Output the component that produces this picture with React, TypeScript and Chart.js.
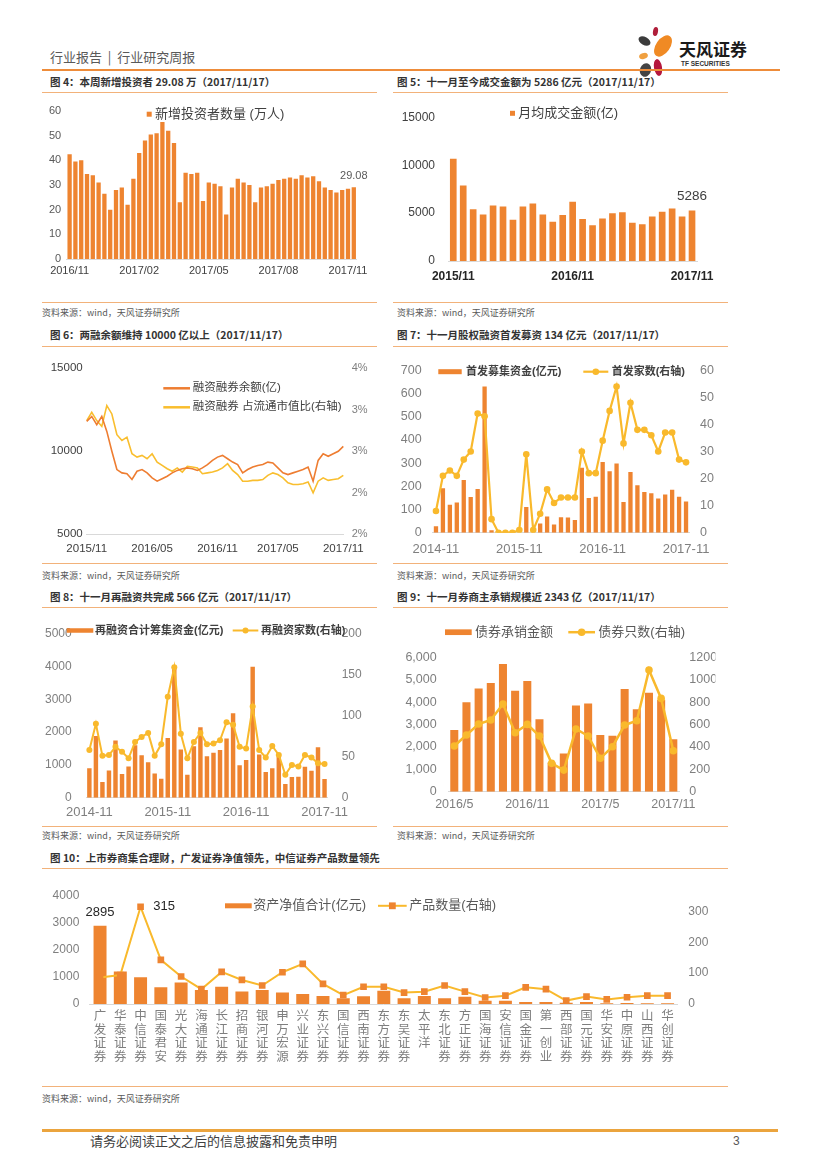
import React, { useEffect, useRef } from 'react';
import { Chart, registerables } from 'chart.js';

Chart.register(...registerables);

const LAT = "'Liberation Sans', 'Noto Sans CJK SC', sans-serif";
const CJK = "'Noto Sans CJK SC', 'Liberation Sans', sans-serif";
Chart.defaults.font.family = LAT;
Chart.defaults.color = '#595959';

const ORANGE = '#EE8430';
const GOLD = '#F9B92C';
const LINE_ORANGE = '#EE7D31';
const LINE_YELLOW = '#F9BE2E';
const AXIS_LINE = '#D9D9D9';

function monthSeq(startYear: number, startMonth: number, n: number, sep: string, pad2: boolean): string[] {
  const out: string[] = [];
  for (let i = 0; i < n; i++) {
    const t = startMonth - 1 + i;
    const y = startYear + Math.floor(t / 12);
    const m = (t % 12) + 1;
    out.push(`${y}${sep}${pad2 ? String(m).padStart(2, '0') : String(m)}`);
  }
  return out;
}

// ---------- 图4 新增投资者（万人），周度
const NEW_INVESTORS = [42.5, 39.5, 40, 34.5, 34, 31, 26.5, 20, 28, 29, 22, 32.5, 43, 48, 50.5, 51, 55.5, 52, 47, 23, 35, 34.5, 35, 23.5, 31, 30.5, 29.5, 18, 29, 32.5, 31, 30, 23, 29, 29.5, 30.5, 32, 32.5, 33, 32.5, 34, 33, 33.5, 31.5, 29, 28, 27, 28, 28.5, 29.08];
const WEEKS_4 = NEW_INVESTORS.map((_, i) => `W${i + 1}`);
const TICKS_4 = ['2016/11', '2017/02', '2017/05', '2017/08', '2017/11'];
const TICK_POS_4 = [0, 12, 24, 36, 48];
const LEGEND_4 = '新增投资者数量 (万人)';

// ---------- 图5 月均成交金额（亿）
const MONTHS_5 = monthSeq(2015, 11, 25, '/', false);
const TURNOVER = [10700, 7900, 5400, 4850, 5800, 5700, 4300, 5700, 6000, 4850, 4100, 4800, 6200, 4400, 3750, 4450, 5000, 5100, 4000, 3850, 4650, 5150, 5500, 4650, 5286];
const TICKS_5 = ['2015/11', '2016/11', '2017/11'];
const LEGEND_5 = '月均成交金额(亿)';

// ---------- 图6 两融余额（亿）与占流通市值比（%）
const MARGIN_BAL = [11800, 12100, 11600, 12100, 11200, 10000, 8900, 8700, 8650, 8300, 8800, 8900, 8700, 8400, 8200, 8350, 8500, 8700, 8850, 8950, 9000, 8950, 8850, 9000, 9200, 9450, 9650, 9750, 9550, 9350, 9200, 8700, 8900, 9050, 9150, 9200, 9350, 9300, 9000, 8700, 8600, 8700, 8800, 8900, 9050, 8200, 9450, 9850, 9700, 9850, 10000, 10300];
const MARGIN_RATIO = [3.12, 3.22, 3.12, 3.05, 3.3, 3.2, 2.95, 2.88, 2.92, 2.72, 2.68, 2.7, 2.66, 2.72, 2.62, 2.58, 2.54, 2.51, 2.55, 2.5, 2.57, 2.56, 2.55, 2.48, 2.49, 2.5, 2.52, 2.55, 2.6, 2.52, 2.47, 2.39, 2.39, 2.4, 2.4, 2.41, 2.46, 2.49, 2.47, 2.43, 2.37, 2.35, 2.35, 2.36, 2.38, 2.25, 2.39, 2.43, 2.4, 2.41, 2.42, 2.46];
const DAYS_6 = MARGIN_BAL.map((_, i) => `D${i + 1}`);
const TICKS_6 = ['2015/11', '2016/05', '2016/11', '2017/05', '2017/11'];
const TICK_POS_6 = [0, 13, 26, 38, 51];
const LEGEND_6 = ['融资融券余额(亿)', '融资融券 占流通市值比(右轴)'];

// ---------- 图7 首发
const MONTHS_78 = monthSeq(2014, 11, 37, '-', true);
const IPO_FUNDS = [28, 192, 120, 130, 227, 154, 188, 630, 11, 0, 0, 0, 0, 111, 0, 40, 70, 35, 67, 65, 55, 280, 150, 155, 305, 265, 298, 132, 262, 205, 175, 170, 147, 165, 185, 155, 134];
const IPO_COUNT = [8, 21, 23, 21, 27, 30, 44, 43, 5, 0, 0, 0, 1, 29, 1, 7, 16, 11, 13, 13, 13, 30, 22, 22, 34, 45, 54, 33, 48, 38, 38, 36, 30, 37, 37, 27, 26];
const TICKS_78 = ['2014-11', '2015-11', '2016-11', '2017-11'];
const LEGEND_7 = ['首发募集资金(亿元)', '首发家数(右轴)'];

// ---------- 图8 再融资
const REFI_FUNDS = [900, 1880, 475, 830, 1740, 720, 950, 1600, 1290, 1080, 740, 580, 1820, 3980, 1470, 700, 1570, 2150, 1260, 1370, 1450, 1800, 2570, 990, 1150, 3990, 1320, 780, 900, 1240, 420, 630, 640, 940, 820, 1540, 566];
const REFI_COUNT = [58, 90, 51, 52, 62, 56, 48, 68, 74, 79, 51, 65, 123, 159, 78, 48, 68, 79, 65, 66, 70, 92, 89, 62, 60, 111, 58, 49, 63, 52, 28, 40, 38, 52, 49, 42, 41];
const LEGEND_8 = ['再融资合计筹集资金(亿元)', '再融资家数(右轴)'];

// ---------- 图9 债券承销
const MONTHS_9 = monthSeq(2016, 5, 19, '/', false);
const BOND_AMT = [2750, 3990, 4610, 4850, 5700, 4510, 4940, 3230, 1300, 1710, 3850, 3940, 2530, 2500, 4580, 3680, 4420, 4100, 2343];
const BOND_COUNT = [408, 506, 604, 640, 783, 527, 601, 497, 253, 193, 560, 497, 298, 402, 595, 634, 1086, 833, 366];
const TICKS_9 = ['2016/5', '2016/11', '2017/5', '2017/11'];
const LEGEND_9 = ['债券承销金额', '债券只数(右轴)'];

// ---------- 图10 集合理财
const BROKERS = ['广发证券', '华泰证券', '中信证券', '国泰君安', '光大证券', '海通证券', '长江证券', '招商证券', '银河证券', '申万宏源', '兴业证券', '东兴证券', '国信证券', '西南证券', '东方证券', '东吴证券', '太平洋', '东北证券', '方正证券', '国海证券', '安信证券', '国金证券', '第一创业', '西部证券', '国元证券', '华安证券', '中原证券', '山西证券', '华创证券'];
const AUM = [2895, 1200, 990, 620, 800, 520, 640, 460, 520, 430, 370, 300, 210, 285, 490, 210, 300, 210, 270, 120, 120, 75, 75, 50, 75, 25, 40, 25, 25];
const PRODUCTS = [86, 94, 315, 143, 89, 48, 104, 78, 60, 103, 130, 65, 29, 56, 56, 37, 40, 60, 40, 21, 27, 54, 48, 11, 24, 15, 22, 27, 27];
const LEGEND_10 = ['资产净值合计(亿元)', '产品数量(右轴)'];

// ---------- helpers
type Box = { left: number; top: number; width: number; height: number };
type Area = { L: number; R: number; T: number; B: number };

function layoutPad(c: Box, a: Area, lw: number, rw: number, bh: number) {
  return {
    left: a.L - c.left - lw,
    right: c.left + c.width - a.R - rw,
    top: a.T - c.top,
    bottom: c.top + c.height - a.B - bh,
  };
}

function yAxis(o: { position: 'left' | 'right'; min: number; max: number; step: number; w: number; size: number; color: string; pad: number; cb?: (v: number) => string }) {
  return {
    type: 'linear',
    position: o.position,
    min: o.min,
    max: o.max,
    ticks: {
      stepSize: o.step,
      padding: o.pad,
      font: { size: o.size },
      color: o.color,
      callback: o.cb ? (v: any) => o.cb!(Number(v)) : (v: any) => String(v),
    },
    grid: { display: false, drawTicks: false },
    border: { display: false },
    afterFit: (s: any) => { s.width = o.w; },
  };
}

function xAxis(o: { h: number; size: number; color: string; pad: number; cb: (i: number) => any; weight?: string; offset?: boolean; lineHeight?: number }) {
  return {
    type: 'category',
    offset: o.offset !== false,
    ticks: {
      autoSkip: false,
      maxRotation: 0,
      minRotation: 0,
      padding: o.pad,
      font: { size: o.size, weight: o.weight || 'normal', lineHeight: o.lineHeight || 1.2 },
      color: o.color,
      callback: (_v: any, i: number) => o.cb(i),
    },
    grid: { display: false, drawTicks: false },
    border: { display: true, color: AXIS_LINE, width: 1 },
    afterFit: (s: any) => { s.height = o.h; },
  };
}

type LegendItem = {
  kind: 'square' | 'bar' | 'line' | 'lineCircle' | 'lineRect';
  x: number; y: number; w: number; h?: number;
  color: string; marker?: string; r?: number; lw?: number;
  text: string; tx: number; font: string; textColor: string;
};

function legendPlugin(id: string, items: LegendItem[]) {
  return {
    id,
    afterDraw(chart: any) {
      const ctx = chart.ctx as CanvasRenderingContext2D;
      ctx.save();
      for (const it of items) {
        if (it.kind === 'square' || it.kind === 'bar') {
          const h = it.h || it.w;
          ctx.fillStyle = it.color;
          ctx.fillRect(it.x, it.y - h / 2, it.w, h);
        } else {
          ctx.strokeStyle = it.color;
          ctx.lineWidth = it.lw || 2;
          ctx.beginPath();
          ctx.moveTo(it.x, it.y);
          ctx.lineTo(it.x + it.w, it.y);
          ctx.stroke();
          const cx = it.x + it.w / 2;
          const r = it.r || 3;
          if (it.kind === 'lineCircle') {
            ctx.fillStyle = it.marker || it.color;
            ctx.beginPath();
            ctx.arc(cx, it.y, r, 0, Math.PI * 2);
            ctx.fill();
          } else if (it.kind === 'lineRect') {
            ctx.fillStyle = it.marker || it.color;
            ctx.fillRect(cx - r, it.y - r, 2 * r, 2 * r);
          }
        }
        ctx.font = it.font;
        ctx.fillStyle = it.textColor;
        ctx.textAlign = 'left';
        ctx.textBaseline = 'middle';
        ctx.fillText(it.text, it.tx, it.y);
      }
      ctx.restore();
    },
  };
}

type PointLabel = { ds: number; idx: number; text: string; dx: number; dy: number; align: CanvasTextAlign; baseline: CanvasTextBaseline; font: string; color: string };

function labelPlugin(id: string, labels: PointLabel[]) {
  return {
    id,
    afterDatasetsDraw(chart: any) {
      const ctx = chart.ctx as CanvasRenderingContext2D;
      ctx.save();
      for (const l of labels) {
        const el = chart.getDatasetMeta(l.ds).data[l.idx];
        if (!el) continue;
        ctx.font = l.font;
        ctx.fillStyle = l.color;
        ctx.textAlign = l.align;
        ctx.textBaseline = l.baseline;
        ctx.fillText(l.text, el.x + l.dx, el.y + l.dy);
      }
      ctx.restore();
    },
  };
}

const baseOptions = (padding: any) => ({
  responsive: true,
  maintainAspectRatio: false,
  animation: false,
  events: [],
  layout: { padding },
});

const noPlugins = { legend: { display: false }, tooltip: { enabled: false }, title: { display: false } };

function ChartBox({ box, make }: { box: Box; make: () => any }) {
  const ref = useRef<HTMLCanvasElement>(null);
  useEffect(() => {
    const chart = new Chart(ref.current as HTMLCanvasElement, make());
    return () => chart.destroy();
  }, []);
  return (
    <div style={{ position: 'absolute', left: box.left, top: box.top, width: box.width, height: box.height }}>
      <canvas ref={ref} />
    </div>
  );
}

// ---------- chart configs
const BOX4: Box = { left: 42, top: 97, width: 335, height: 190 };
function make4() {
  const area = { L: 66.7, R: 356.7, T: 111, B: 259 };
  const last = NEW_INVESTORS.length - 1;
  return {
    type: 'bar',
    data: {
      labels: WEEKS_4,
      datasets: [{ data: NEW_INVESTORS, backgroundColor: ORANGE, barPercentage: 0.74, categoryPercentage: 1 }],
    },
    options: {
      ...baseOptions(layoutPad(BOX4, area, 22, 0, 26)),
      plugins: noPlugins,
      scales: {
        x: xAxis({ h: 26, size: 11, color: '#404040', pad: 5.4, cb: (i) => { const k = TICK_POS_4.indexOf(i); return k >= 0 ? TICKS_4[k] : ''; } }),
        y: yAxis({ position: 'left', min: 0, max: 60, step: 10, w: 22, size: 11, color: '#595959', pad: 5.5 }),
      },
    },
    plugins: [
      legendPlugin('lg4', [{ kind: 'square', x: 104.7, y: 17.2, w: 5, color: ORANGE, text: LEGEND_4, tx: 113, font: `13px ${LAT}`, textColor: '#404040' }]),
      labelPlugin('lb4', [{ ds: 0, idx: last, text: String(NEW_INVESTORS[last]), dx: 0, dy: -6, align: 'center', baseline: 'bottom', font: `11px ${LAT}`, color: '#595959' }]),
    ],
  };
}

const BOX5: Box = { left: 393, top: 97, width: 335, height: 190 };
function make5() {
  const area = { L: 448.3, R: 697, T: 108.3, B: 261 };
  const last = TURNOVER.length - 1;
  return {
    type: 'bar',
    data: {
      labels: MONTHS_5,
      datasets: [{ data: TURNOVER, backgroundColor: ORANGE, barPercentage: 0.67, categoryPercentage: 1 }],
    },
    options: {
      ...baseOptions(layoutPad(BOX5, area, 50, 0, 26)),
      plugins: noPlugins,
      scales: {
        x: xAxis({ h: 26, size: 12, weight: 'bold', color: '#262626', pad: 8.8, cb: (i) => (TICKS_5.includes(MONTHS_5[i]) ? MONTHS_5[i] : '') }),
        y: yAxis({ position: 'left', min: 0, max: 15000, step: 5000, w: 50, size: 12, color: '#404040', pad: 13.3 }),
      },
    },
    plugins: [
      legendPlugin('lg5', [{ kind: 'square', x: 117, y: 16.3, w: 5, color: ORANGE, text: LEGEND_5, tx: 125.3, font: `13px ${LAT}`, textColor: '#404040' }]),
      labelPlugin('lb5', [{ ds: 0, idx: last, text: String(TURNOVER[last]), dx: 0, dy: -7, align: 'center', baseline: 'bottom', font: `13.5px ${LAT}`, color: '#404040' }]),
    ],
  };
}

const BOX6: Box = { left: 42, top: 352, width: 335, height: 210 };
function make6() {
  const area = { L: 86.7, R: 343.3, T: 368.3, B: 534.3 };
  return {
    type: 'line',
    data: {
      labels: DAYS_6,
      datasets: [
        { data: MARGIN_BAL, yAxisID: 'y', borderColor: LINE_ORANGE, borderWidth: 1.6, pointRadius: 0, tension: 0, order: 0 },
        { data: MARGIN_RATIO, yAxisID: 'y1', borderColor: LINE_YELLOW, borderWidth: 1.6, pointRadius: 0, tension: 0, order: 1 },
      ],
    },
    options: {
      ...baseOptions(layoutPad(BOX6, area, 40, 30, 25)),
      plugins: noPlugins,
      scales: {
        x: xAxis({ h: 25, size: 11.5, color: '#404040', pad: 8.1, offset: false, cb: (i) => { const k = TICK_POS_6.indexOf(i); return k >= 0 ? TICKS_6[k] : ''; } }),
        y: yAxis({ position: 'left', min: 5000, max: 15000, step: 5000, w: 40, size: 11.5, color: '#404040', pad: 4 }),
        y1: yAxis({ position: 'right', min: 1.75, max: 3.75, step: 0.5, w: 30, size: 11, color: '#808080', pad: 8.4, cb: (v) => `${Math.round(v)}%` }),
      },
    },
    plugins: [
      legendPlugin('lg6', [
        { kind: 'line', x: 121.3, y: 36.3, w: 26.7, lw: 2.5, color: LINE_ORANGE, text: LEGEND_6[0], tx: 150.7, font: `11.5px ${LAT}`, textColor: '#404040' },
        { kind: 'line', x: 121.3, y: 55.3, w: 26.7, lw: 2.5, color: LINE_YELLOW, text: LEGEND_6[1], tx: 150.7, font: `11.5px ${LAT}`, textColor: '#404040' },
      ]),
    ],
  };
}

const BOX7: Box = { left: 393, top: 352, width: 335, height: 210 };
function make7() {
  const area = { L: 432.5, R: 689.5, T: 365, B: 532.7 };
  return {
    type: 'bar',
    data: {
      labels: MONTHS_78,
      datasets: [
        { type: 'line', data: IPO_COUNT, yAxisID: 'y1', borderColor: GOLD, borderWidth: 2.2, pointRadius: 3.3, pointBackgroundColor: GOLD, pointBorderWidth: 0, tension: 0, order: 0 },
        { type: 'bar', data: IPO_FUNDS, yAxisID: 'y', backgroundColor: ORANGE, barPercentage: 0.62, categoryPercentage: 1, order: 1 },
      ],
    },
    options: {
      ...baseOptions(layoutPad(BOX7, area, 34, 30, 27)),
      plugins: noPlugins,
      scales: {
        x: xAxis({ h: 27, size: 13, color: '#7F7F7F', pad: 8.5, cb: (i) => (TICKS_78.includes(MONTHS_78[i]) ? MONTHS_78[i] : '') }),
        y: yAxis({ position: 'left', min: 0, max: 700, step: 100, w: 34, size: 12.5, color: '#7F7F7F', pad: 10.8 }),
        y1: yAxis({ position: 'right', min: 0, max: 60, step: 10, w: 30, size: 12.5, color: '#7F7F7F', pad: 10.5 }),
      },
    },
    plugins: [
      legendPlugin('lg7', [
        { kind: 'bar', x: 45.3, y: 19.7, w: 23.4, h: 5, color: ORANGE, text: LEGEND_7[0], tx: 73, font: `bold 11px ${LAT}`, textColor: '#404040' },
        { kind: 'lineCircle', x: 190.3, y: 19.7, w: 25, lw: 2.2, r: 3.3, color: GOLD, marker: GOLD, text: LEGEND_7[1], tx: 218.7, font: `bold 11px ${LAT}`, textColor: '#404040' },
      ]),
    ],
  };
}

const BOX8: Box = { left: 36, top: 612, width: 341, height: 212 };
function make8() {
  const area = { L: 86.1, R: 327.8, T: 622.3, B: 797.7 };
  return {
    type: 'bar',
    data: {
      labels: MONTHS_78,
      datasets: [
        { type: 'line', data: REFI_COUNT, yAxisID: 'y1', borderColor: GOLD, borderWidth: 2, pointRadius: 3, pointBackgroundColor: GOLD, pointBorderWidth: 0, tension: 0, order: 0 },
        { type: 'bar', data: REFI_FUNDS, yAxisID: 'y', backgroundColor: ORANGE, barPercentage: 0.68, categoryPercentage: 1, order: 1 },
      ],
    },
    options: {
      ...baseOptions(layoutPad(BOX8, area, 44, 35, 24)),
      plugins: noPlugins,
      scales: {
        x: xAxis({ h: 24, size: 13, color: '#7F7F7F', pad: 6.8, cb: (i) => (TICKS_78.includes(MONTHS_78[i]) ? MONTHS_78[i] : '') }),
        y: yAxis({ position: 'left', min: 0, max: 5000, step: 1000, w: 44, size: 12, color: '#7F7F7F', pad: 14.4 }),
        y1: yAxis({ position: 'right', min: 0, max: 200, step: 50, w: 35, size: 12, color: '#7F7F7F', pad: 13.9 }),
      },
    },
    plugins: [
      legendPlugin('lg8', [
        { kind: 'bar', x: 30.7, y: 18.5, w: 26.6, h: 4.5, color: ORANGE, text: LEGEND_8[0], tx: 59, font: `bold 11px ${LAT}`, textColor: '#404040' },
        { kind: 'lineCircle', x: 196.7, y: 18.5, w: 25.6, lw: 2, r: 3, color: GOLD, marker: GOLD, text: LEGEND_8[1], tx: 225, font: `bold 11px ${LAT}`, textColor: '#404040' },
      ]),
    ],
  };
}

const BOX9: Box = { left: 393, top: 612, width: 335, height: 212 };
function make9() {
  const area = { L: 448.2, R: 679.4, T: 657.3, B: 791.7 };
  return {
    type: 'bar',
    data: {
      labels: MONTHS_9,
      datasets: [
        { type: 'line', data: BOND_COUNT, yAxisID: 'y1', borderColor: GOLD, borderWidth: 2.5, pointRadius: 3.8, pointBackgroundColor: GOLD, pointBorderWidth: 0, tension: 0, order: 0 },
        { type: 'bar', data: BOND_AMT, yAxisID: 'y', backgroundColor: ORANGE, barPercentage: 0.66, categoryPercentage: 1, order: 1 },
      ],
    },
    options: {
      ...baseOptions(layoutPad(BOX9, area, 50, 36, 26)),
      plugins: noPlugins,
      scales: {
        x: xAxis({ h: 26, size: 12.5, color: '#7F7F7F', pad: 5.8, cb: (i) => (TICKS_9.includes(MONTHS_9[i]) ? MONTHS_9[i] : '') }),
        y: yAxis({ position: 'left', min: 0, max: 6000, step: 1000, w: 50, size: 12.5, color: '#7F7F7F', pad: 11.5, cb: (v) => v.toLocaleString('en-US') }),
        y1: yAxis({ position: 'right', min: 0, max: 1200, step: 200, w: 36, size: 12.5, color: '#7F7F7F', pad: 9.9 }),
      },
    },
    plugins: [
      legendPlugin('lg9', [
        { kind: 'bar', x: 52, y: 20.2, w: 26.7, h: 5.7, color: ORANGE, text: LEGEND_9[0], tx: 82, font: `13px ${LAT}`, textColor: '#595959' },
        { kind: 'lineCircle', x: 175.3, y: 20.2, w: 26.7, lw: 2.5, r: 3.8, color: GOLD, marker: GOLD, text: LEGEND_9[1], tx: 205.3, font: `13px ${LAT}`, textColor: '#595959' },
      ]),
    ],
  };
}

const BOX10: Box = { left: 42, top: 872, width: 686, height: 200 };
function make10() {
  const area = { L: 89.9, R: 677.7, T: 896, B: 1004 };
  const topProducts = PRODUCTS.indexOf(Math.max(...PRODUCTS));
  return {
    type: 'bar',
    data: {
      labels: BROKERS,
      datasets: [
        { type: 'line', data: PRODUCTS, yAxisID: 'y1', borderColor: GOLD, borderWidth: 2, pointStyle: 'rect', pointRadius: 4.7, pointBackgroundColor: ORANGE, pointBorderColor: ORANGE, pointBorderWidth: 0, tension: 0, order: 0 },
        { type: 'bar', data: AUM, yAxisID: 'y', backgroundColor: ORANGE, barPercentage: 0.64, categoryPercentage: 1, order: 1 },
      ],
    },
    options: {
      ...baseOptions(layoutPad(BOX10, area, 44, 36, 64)),
      plugins: noPlugins,
      scales: {
        x: xAxis({ h: 64, size: 12.5, lineHeight: 1.08, color: '#7F7F7F', pad: 6, cb: (i) => BROKERS[i].split('') }),
        y: yAxis({ position: 'left', min: 0, max: 4000, step: 1000, w: 44, size: 12, color: '#7F7F7F', pad: 10.6 }),
        y1: yAxis({ position: 'right', min: 0, max: 350, step: 100, w: 36, size: 12, color: '#7F7F7F', pad: 10.6, cb: (v) => (v % 100 === 0 ? String(v) : '') }),
      },
    },
    plugins: [
      legendPlugin('lg10', [
        { kind: 'bar', x: 183, y: 33.8, w: 26.7, h: 5, color: ORANGE, text: LEGEND_10[0], tx: 211.3, font: `13px ${LAT}`, textColor: '#595959' },
        { kind: 'lineRect', x: 336, y: 33.8, w: 28.7, lw: 2, r: 3.4, color: GOLD, marker: ORANGE, text: LEGEND_10[1], tx: 367.3, font: `13px ${LAT}`, textColor: '#595959' },
      ]),
      labelPlugin('lb10', [
        { ds: 1, idx: 0, text: String(AUM[0]), dx: 0, dy: -7, align: 'center', baseline: 'bottom', font: `13px ${LAT}`, color: '#262626' },
        { ds: 0, idx: topProducts, text: String(PRODUCTS[topProducts]), dx: 12.6, dy: 0, align: 'left', baseline: 'middle', font: `13px ${LAT}`, color: '#262626' },
      ]),
    ],
  };
}

// ---------- page text pieces
function Txt({ x, y, size, color = '#404040', weight = 400, family = CJK, children }: { x: number; y: number; size: number; color?: string; weight?: number; family?: string; children: React.ReactNode }) {
  return (
    <div style={{ position: 'absolute', left: x, top: y - size * 0.7, fontSize: size, lineHeight: `${size * 1.4}px`, color, fontWeight: weight, whiteSpace: 'nowrap', fontFamily: family }}>
      {children}
    </div>
  );
}

function Rule({ x, y, w, h = 1, color = '#F2B27A' }: { x: number; y: number; w: number; h?: number; color?: string }) {
  return <div style={{ position: 'absolute', left: x, top: y, width: w, height: h, background: color }} />;
}

function Petal({ cx, cy, w, h, rot, color }: { cx: number; cy: number; w: number; h: number; rot: number; color: string }) {
  return (
    <div style={{ position: 'absolute', left: cx - w / 2, top: cy - h / 2, width: w, height: h, borderRadius: '50%', background: color, transform: `rotate(${rot}deg)` }} />
  );
}

const SOURCE = '资料来源：wind，天风证券研究所';

export default function App() {
  return (
    <div style={{ position: 'absolute', left: 0, top: 0, width: 827, height: 1169, background: '#fff', overflow: 'hidden', fontFamily: CJK }}>
      {/* header */}
      <Txt x={50} y={57} size={13} color="#595959">行业报告 &nbsp;|&nbsp; 行业研究周报</Txt>
      <Petal cx={655} cy={31} w={5} h={9} rot={10} color="#B01E3A" />
      <Petal cx={644} cy={41} w={13} h={8} rot={30} color="#3C3C3C" />
      <Petal cx={663} cy={46} w={14} h={24} rot={35} color="#F08A24" />
      <Petal cx={643} cy={56} w={9} h={6} rot={-20} color="#F0A040" />
      <Petal cx={658} cy={67} w={8} h={17} rot={-10} color="#B5173D" />
      <Petal cx={645} cy={70} w={11} h={14} rot={20} color="#444444" />
      <Txt x={679} y={49} size={17} color="#1A1A1A" weight={700}>天风证券</Txt>
      <Txt x={681} y={64} size={6.5} color="#333333" weight={700} family={LAT}>TF SECURITIES</Txt>
      <Rule x={42} y={69} w={738} h={2} color="#EE8C3A" />

      {/* row 1 */}
      <Txt x={50} y={82} size={10.5} color="#333333" weight={700}>图 4：本周新增投资者 29.08 万（2017/11/17）</Txt>
      <Txt x={397} y={82} size={10.5} color="#333333" weight={700}>图 5：十一月至今成交金额为 5286 亿元（2017/11/17）</Txt>
      <Rule x={42} y={92} w={335} />
      <Rule x={393} y={92} w={335} />
      <ChartBox box={BOX4} make={make4} />
      <ChartBox box={BOX5} make={make5} />
      <Rule x={42} y={302} w={335} />
      <Rule x={393} y={302} w={335} />
      <Txt x={42} y={313} size={9} color="#595959">{SOURCE}</Txt>
      <Txt x={397} y={313} size={9} color="#595959">{SOURCE}</Txt>

      {/* row 2 */}
      <Txt x={50} y={335} size={10.5} color="#333333" weight={700}>图 6：两融余额维持 10000 亿以上（2017/11/17）</Txt>
      <Txt x={397} y={335} size={10.5} color="#333333" weight={700}>图 7：十一月股权融资首发募资 134 亿元（2017/11/17）</Txt>
      <Rule x={42} y={346} w={335} />
      <Rule x={393} y={346} w={335} />
      <ChartBox box={BOX6} make={make6} />
      <ChartBox box={BOX7} make={make7} />
      <Rule x={42} y={563} w={335} />
      <Rule x={393} y={563} w={335} />
      <Txt x={42} y={576} size={9} color="#595959">{SOURCE}</Txt>
      <Txt x={397} y={576} size={9} color="#595959">{SOURCE}</Txt>

      {/* row 3 */}
      <Txt x={50} y={597} size={10.5} color="#333333" weight={700}>图 8：十一月再融资共完成 566 亿元（2017/11/17）</Txt>
      <Txt x={397} y={597} size={10.5} color="#333333" weight={700}>图 9：十一月券商主承销规模近 2343 亿（2017/11/17）</Txt>
      <Rule x={42} y={607} w={335} />
      <Rule x={393} y={607} w={335} />
      <ChartBox box={BOX8} make={make8} />
      <ChartBox box={BOX9} make={make9} />
      <Rule x={42} y={826} w={335} />
      <Rule x={393} y={826} w={335} />
      <Txt x={42} y={836} size={9} color="#595959">{SOURCE}</Txt>
      <Txt x={397} y={836} size={9} color="#595959">{SOURCE}</Txt>

      {/* row 4 */}
      <Txt x={50} y={858} size={10.5} color="#333333" weight={700}>图 10：上市券商集合理财，广发证券净值领先，中信证券产品数量领先</Txt>
      <Rule x={42} y={868} w={686} />
      <ChartBox box={BOX10} make={make10} />
      <Rule x={42} y={1086} w={686} />
      <Txt x={42} y={1099} size={9} color="#595959">{SOURCE}</Txt>

      {/* footer */}
      <Rule x={42} y={1129} w={736} h={3} color="#EBA43E" />
      <Txt x={90} y={1141} size={13} color="#404040">请务必阅读正文之后的信息披露和免责申明</Txt>
      <Txt x={733} y={1141} size={12} color="#595959" family={LAT}>3</Txt>
    </div>
  );
}
